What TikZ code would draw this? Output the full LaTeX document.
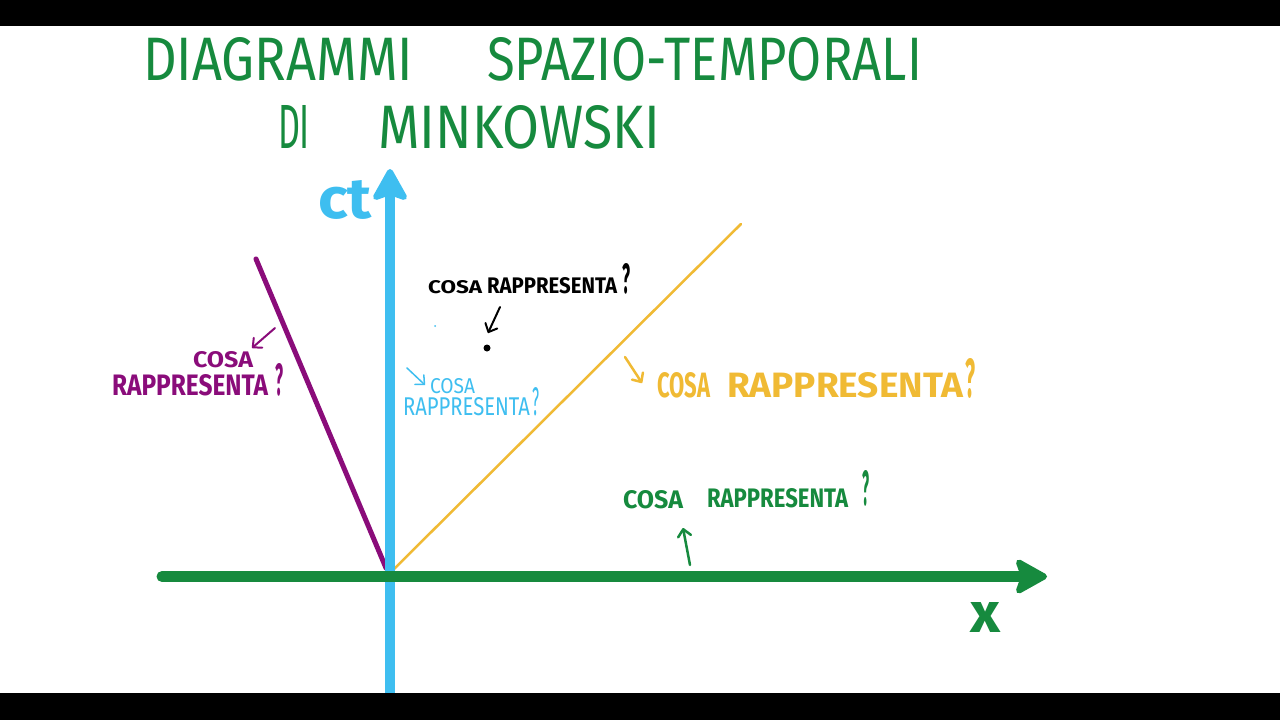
\documentclass[tikz,border=0pt]{standalone}
\usepackage{fontspec}
\setmainfont{Fira Sans}
\usetikzlibrary{arrows.meta}
\definecolor{cgreen}{RGB}{22,138,62}
\definecolor{cblue}{RGB}{62,190,240}
\definecolor{cpurple}{RGB}{138,12,122}
\definecolor{cyellow}{RGB}{240,186,52}
\newcommand{\fitbox}[3]{\resizebox{#1pt}{#2pt}{#3}}
\begin{document}
\begin{tikzpicture}[x=1pt,y=-1pt,
  lab/.style={inner sep=0pt, outer sep=0pt, anchor=north west},
  ttl/.style={lab, text=cgreen},
  lbl/.style={lab, font=\bfseries},
  ptr/.style={line cap=round, line join=round, -{Straight Barb[length=7pt,width=13pt,round]}},
  axis/.style={line cap=round},
  head/.style={line width=6pt, line join=round}]
\useasboundingbox (0,0) rectangle (1280,720);
\fill[white] (0,0) rectangle (1280,720);
% world lines
\draw[cpurple, line width=5pt, line cap=round] (256,259) -- (386,568);
\draw[cyellow, line width=2.5pt, line cap=round] (392,571) -- (741,224);
% axes
\coordinate (ybot) at (390,700);
\coordinate (ytop) at (390,188);
\coordinate (yt) at (390,172);
\coordinate (yl) at (376,197);
\coordinate (yr) at (404,197);
\coordinate (yn) at (390,192);
\draw[axis, cblue, line width=10pt] (ybot) -- (ytop);
\filldraw[cblue, head] (yt) -- (yr) -- (yn) -- (yl) -- cycle;
\coordinate (xl) at (162,576.5);
\coordinate (xr) at (1028,576.5);
\coordinate (xt) at (1044,576.5);
\coordinate (xu) at (1019,562.5);
\coordinate (xd) at (1019,590.5);
\coordinate (xn) at (1024,576.5);
\draw[axis, cgreen, line width=11pt] (xl) -- (xr);
\filldraw[cgreen, head] (xt) -- (xu) -- (xn) -- (xd) -- cycle;
% title
\node[ttl] (t1) at (143,37) {\fitbox{270}{43}{DIAGRAMMI}};
\node[ttl] (t2) at (487,37) {\fitbox{435}{43}{SPAZIO-TEMPORALI}};
\node[ttl] (t3) at (278,105) {\fitbox{32}{43}{DI}};
\node[ttl] (t4) at (378,105) {\fitbox{282}{43}{MINKOWSKI}};
% axis labels
\node[lbl, text=cblue] (ct) at (318,180) {\fitbox{54}{38}{ct}};
\node[lbl, text=cgreen] (xlab) at (970,602) {\fitbox{30}{30}{x}};
% purple label
\node[lbl, text=cpurple] (p1) at (193,351) {\fitbox{60}{16}{COSA}};
\node[lbl, text=cpurple] (p2) at (112,374) {\fitbox{156}{21}{RAPPRESENTA}};
\node[lbl, text=cpurple] (p3) at (275,363) {\fitbox{8}{32}{?}};
\coordinate (pa) at (275,328);
\coordinate (pb) at (252,348);
\draw[ptr, cpurple, line width=2pt] (pa) -- (pb);
% black label
\node[lbl, text=black] (k1) at (428,280) {\fitbox{54}{13}{COSA}};
\node[lbl, text=black] (k2) at (487,277) {\fitbox{130}{16}{RAPPRESENTA}};
\node[lbl, text=black] (k3) at (622,263) {\fitbox{8}{30}{?}};
\coordinate (ka) at (500,307);
\coordinate (kb) at (488,333);
\draw[ptr, black, line width=2pt] (ka) -- (kb);
\fill[black] (487,348) circle (3.5pt);
\fill[cblue] (435,326) circle (1pt);
% blue label
\node[lbl, text=cblue, font=\mdseries] (b1) at (430,378) {\fitbox{45}{15}{COSA}};
\node[lbl, text=cblue, font=\mdseries] (b2) at (403,397) {\fitbox{127}{18}{RAPPRESENTA}};
\node[lbl, text=cblue, font=\mdseries] (b3) at (532,387) {\fitbox{7}{28}{?}};
\coordinate (ba) at (407,368);
\coordinate (bb) at (425,385);
\draw[ptr, cblue, line width=1.5pt] (ba) -- (bb);
% yellow label
\node[lbl, text=cyellow] (y1) at (657,372) {\fitbox{53}{25}{COSA}};
\node[lbl, text=cyellow] (y2) at (727,372) {\fitbox{236}{25}{RAPPRESENTA}};
\node[lbl, text=cyellow] (y3) at (965,358) {\fitbox{10}{39}{?}};
\coordinate (ya) at (625,357);
\coordinate (yb) at (642,383);
\draw[ptr, cyellow, line width=2.5pt] (ya) -- (yb);
% green label
\node[lbl, text=cgreen] (g1) at (623,490) {\fitbox{60}{18}{COSA}};
\node[lbl, text=cgreen] (g2) at (707,488) {\fitbox{141}{19}{RAPPRESENTA}};
\node[lbl, text=cgreen] (g3) at (862,470) {\fitbox{7}{35}{?}};
\coordinate (ga) at (690,565);
\coordinate (gb) at (683,528);
\draw[ptr, cgreen, line width=2.5pt] (ga) -- (gb);
% letterbox bars
\fill[black] (0,0) rectangle (1280,26);
\fill[black] (0,693) rectangle (1280,720);
\end{tikzpicture}
\end{document}
